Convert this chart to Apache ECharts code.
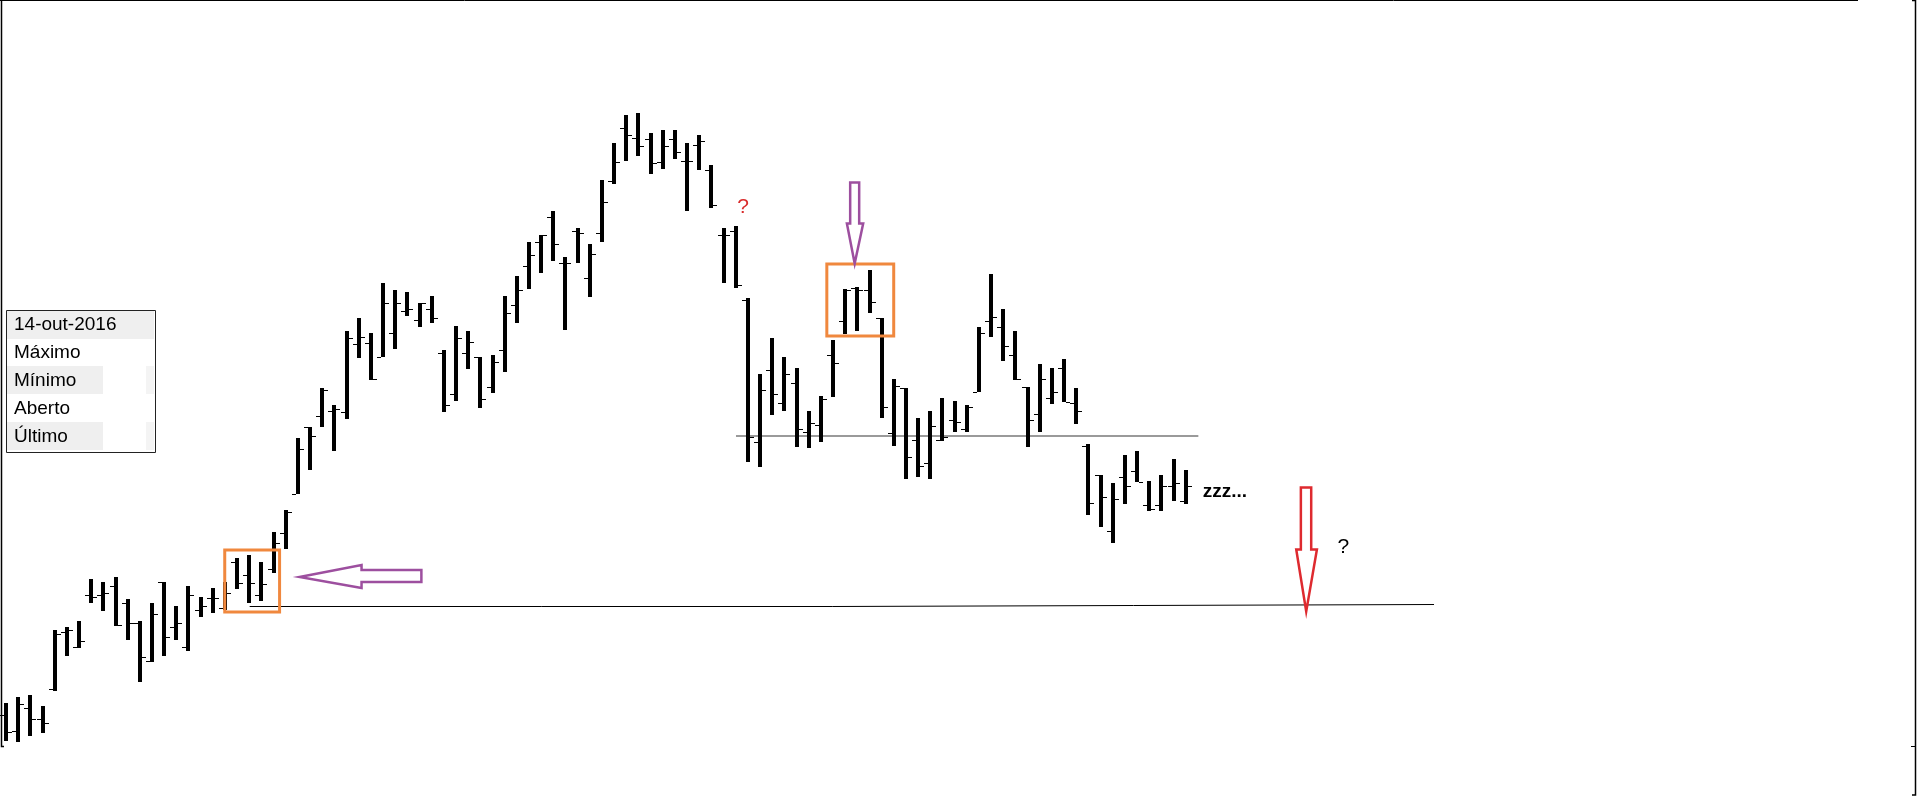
<!DOCTYPE html>
<html>
<head>
<meta charset="utf-8">
<title>Gráfico de barras OHLC</title>
<script src="https://cdn.jsdelivr.net/npm/echarts@6/dist/echarts.min.js"></script>
<style>
  html, body { margin: 0; padding: 0; background: #fff; }
  #chart { width: 1918px; height: 796px; }
</style>
</head>
<body>
<div id="chart"></div>
<script>
// Daily OHLC prices (R$), one entry per session, oldest first
const opens = [
  15.70, 15.38, 15.84, 15.62, 16.22, 17.36, 17.06, 18.10, 18.10, 18.28,
  17.94, 17.54, 16.78, 18.36, 17.46, 17.06, 17.80, 18.04, 17.84, 18.76,
  18.50, 18.10, 18.62, 19.34, 20.12, 21.46, 21.68, 21.78, 21.76, 23.12,
  23.14, 22.86, 23.34, 23.78, 23.60, 23.82, 22.94, 22.12, 22.94, 22.86,
  22.26, 23.00, 23.90, 24.68, 25.16, 25.66, 24.74, 25.38, 24.44, 25.34,
  26.38, 27.44, 27.24, 27.22, 26.76, 27.22, 26.78, 27.10, 26.60, 25.30,
  25.38, 24.00, 21.16, 22.60, 21.94, 22.34, 21.36, 21.50, 22.90, 23.58,
  24.24, 24.20, 23.64, 21.34, 22.24, 21.20, 20.74, 21.20, 21.60, 21.42,
  22.16, 23.58, 23.46, 22.90, 22.26, 21.72, 22.04, 22.64, 21.94, 21.08,
  20.50, 19.38, 20.46, 20.58, 19.90, 19.90, 20.28, 19.98
];
const highs = [
  15.94, 16.06, 16.10, 15.88, 17.40, 17.46, 17.58, 18.42, 18.36, 18.46,
  18.02, 17.58, 17.94, 18.36, 17.88, 18.28, 18.06, 18.24, 18.36, 18.84,
  18.90, 18.76, 19.36, 19.80, 21.24, 21.46, 22.24, 21.90, 23.38, 23.64,
  23.34, 24.34, 24.20, 24.16, 23.94, 24.08, 23.00, 23.48, 23.38, 22.86,
  22.90, 24.08, 24.48, 25.16, 25.30, 25.78, 24.86, 25.44, 25.12, 26.40,
  27.14, 27.70, 27.74, 27.34, 27.40, 27.40, 27.14, 27.30, 26.70, 25.44,
  25.48, 24.04, 22.52, 23.24, 22.86, 22.64, 21.78, 22.08, 23.20, 24.22,
  24.26, 24.60, 23.64, 22.42, 22.24, 21.64, 21.78, 22.04, 21.98, 21.90,
  23.46, 24.52, 23.82, 23.38, 22.26, 22.72, 22.64, 22.82, 22.24, 21.12,
  20.50, 20.34, 20.90, 20.98, 20.38, 20.50, 20.82, 20.60
];
const lows = [
  15.18, 15.16, 15.28, 15.34, 16.18, 16.88, 17.04, 17.94, 17.78, 17.48,
  17.20, 16.36, 16.76, 16.88, 17.20, 16.98, 17.66, 17.74, 17.80, 18.22,
  17.94, 17.98, 18.54, 19.02, 20.12, 20.60, 21.46, 20.98, 21.62, 22.84,
  22.40, 22.86, 23.02, 23.68, 23.46, 23.54, 21.76, 21.98, 22.62, 21.84,
  22.14, 22.56, 23.54, 24.22, 24.54, 24.78, 23.40, 24.74, 24.06, 25.16,
  26.32, 26.78, 26.88, 26.52, 26.62, 26.82, 25.78, 26.60, 25.84, 24.34,
  24.24, 20.76, 20.66, 21.70, 21.78, 21.06, 21.04, 21.16, 22.06, 23.32,
  23.38, 23.74, 21.64, 21.08, 20.42, 20.46, 20.42, 21.18, 21.36, 21.36,
  22.16, 23.26, 22.78, 22.40, 21.06, 21.36, 21.92, 21.96, 21.52, 19.70,
  19.46, 19.14, 19.92, 20.36, 19.78, 19.78, 19.98, 19.92
];
const closes = [
  15.36, 15.92, 15.62, 15.54, 17.32, 17.40, 17.18, 18.06, 18.14, 17.50,
  17.54, 16.86, 17.72, 17.26, 17.54, 18.10, 17.88, 18.04, 18.14, 18.34,
  18.34, 18.32, 19.14, 19.76, 21.02, 21.28, 22.20, 21.82, 23.24, 23.26,
  22.42, 23.94, 23.94, 23.82, 23.94, 23.64, 21.90, 23.24, 23.16, 22.02,
  22.76, 23.74, 24.20, 24.90, 25.30, 25.12, 24.74, 25.34, 24.92, 25.96,
  26.76, 27.30, 27.08, 26.74, 27.08, 26.96, 26.78, 27.18, 25.90, 25.30,
  24.30, 21.26, 22.20, 22.12, 22.52, 21.42, 21.54, 22.02, 22.74, 24.20,
  24.20, 23.96, 21.86, 22.28, 20.86, 20.68, 21.48, 21.26, 21.56, 21.86,
  23.34, 23.66, 23.08, 22.42, 21.60, 22.42, 22.16, 21.96, 21.78, 19.94,
  20.06, 20.02, 20.28, 20.36, 19.82, 20.28, 20.34, 20.28
];

// Session numbers on the time axis, plus empty room on the right for projections
const sessions = opens.map((_, i) => String(i + 1));
const emptySessions = 20;

// Price levels drawn across the chart: [session position, price]
const supportLevel = [[20.03, 17.87], [67.98, 17.87], [67.98, 17.91], [117.42, 17.91]];
const necklineLevel = [[60.02, 21.28], [98.04, 21.28]];

// Highlighted clusters: [left, top price, right, bottom price]
const highlightBoxes = [
  [17.98, 19.00, 22.49, 17.76],
  [67.49, 24.72, 72.99, 23.28]
];

// Hollow arrows as outlines in [session position, price]
const arrowLeft = [[24.13, 18.46], [29.23, 18.70], [29.23, 18.60], [34.15, 18.60],
                   [34.15, 18.36], [29.23, 18.36], [29.23, 18.24]];
const arrowDownTop = [[69.41, 26.35], [70.15, 26.35], [70.15, 25.53], [70.48, 25.53],
                      [69.78, 24.73], [69.14, 25.53], [69.41, 25.53]];
const arrowDownTarget = [[106.47, 20.25], [107.32, 20.25], [107.32, 19.01], [107.79, 19.01],
                         [106.91, 17.77], [106.09, 19.01], [106.47, 19.01]];

// Text notes: [session position, price, text]
const noteQuestionRed = [60.6, 25.86, '?'];
const noteSleep = [98.40, 20.16, 'zzz...'];
const noteQuestion = [109.96, 19.06, '?'];

// Data-window panel rows
const panelRows = ['14-out-2016', 'Máximo', 'Mínimo', 'Aberto', 'Último'];

const ohlcData = opens.map((o, i) => [i, o, highs[i], lows[i], closes[i]]);
const categoryList = sessions.concat(Array.from({ length: emptySessions }, () => ''));

const chart = echarts.init(document.getElementById('chart'), null, { renderer: 'canvas' });

// One OHLC bar: thick high-low stem, open tick on the left, close tick on the right
function renderOhlc(params, api) {
  const i = api.value(0);
  const x = Math.round(api.coord([i, 0])[0]);
  const yO = Math.round(api.coord([i, api.value(1)])[1]);
  const yH = Math.round(api.coord([i, api.value(2)])[1]);
  const yL = Math.round(api.coord([i, api.value(3)])[1]);
  const yC = Math.round(api.coord([i, api.value(4)])[1]);
  const half = 2, tick = 4;
  return {
    type: 'group',
    children: [
      { type: 'rect', shape: { x: x - half, y: yH, width: half * 2, height: Math.max(1, yL - yH) }, style: { fill: '#000' } },
      { type: 'rect', shape: { x: x - half - tick, y: yO, width: tick, height: 1 }, style: { fill: '#000' } },
      { type: 'rect', shape: { x: x + half, y: yC, width: tick, height: 1 }, style: { fill: '#000' } }
    ]
  };
}

const nTotal = categoryList.length;

chart.setOption({
  animation: false,
  backgroundColor: '#ffffff',
  grid: { left: -2, top: 0, width: 1437, height: 796, containLabel: false },
  xAxis: [
    { type: 'category', data: categoryList, boundaryGap: true, show: false },
    { type: 'value', min: -0.5, max: nTotal - 0.5, show: false }
  ],
  yAxis: [{ type: 'value', min: 14.08, max: 30, show: false }],
  series: [
    {
      type: 'line', xAxisIndex: 1, data: supportLevel, symbol: 'none', silent: true,
      lineStyle: { color: '#000', width: 1 }, z: 1
    },
    {
      type: 'line', xAxisIndex: 1, data: necklineLevel, symbol: 'none', silent: true,
      lineStyle: { color: '#9a9a9a', width: 2 }, z: 1
    },
    {
      type: 'custom', xAxisIndex: 0, data: ohlcData, renderItem: renderOhlc,
      encode: { x: 0, y: [1, 2, 3, 4] }, z: 3
    }
  ]
});

// Overlay drawings anchored to chart coordinates
function px(pt) {
  return chart.convertToPixel({ xAxisIndex: 1, yAxisIndex: 0 }, [pt[0], pt[1]]);
}

function arrowShape(points, color) {
  return {
    type: 'polygon', z: 20,
    shape: { points: points.map(px) },
    style: { fill: '#fff', stroke: color, lineWidth: 2.5, lineJoin: 'miter' }
  };
}

function boxShape(b) {
  const a = px([b[0], b[1]]);
  const c = px([b[2], b[3]]);
  return {
    type: 'rect', z: 20,
    shape: { x: a[0], y: a[1], width: c[0] - a[0], height: c[1] - a[1] },
    style: { fill: 'none', stroke: '#f0883e', lineWidth: 3 }
  };
}

function noteText(n, color, font, align) {
  const p = px([n[0], n[1]]);
  return {
    type: 'text', z: 21, x: p[0], y: p[1],
    style: { text: n[2], fill: color, font: font, align: align, verticalAlign: 'middle' }
  };
}

// Data-window panel at the left
const panelLeft = 6, panelTop = 310, panelWidth = 149, rowH = 28;
const panelChildren = [];
panelRows.forEach((label, r) => {
  const y = panelTop + r * rowH;
  if (r === 0) {
    panelChildren.push({ type: 'rect', shape: { x: panelLeft + 1, y: y + 1, width: panelWidth - 2, height: rowH }, style: { fill: '#efefef' } });
  } else if (r % 2 === 0) {
    panelChildren.push({ type: 'rect', shape: { x: panelLeft + 1, y: y, width: 96, height: rowH }, style: { fill: '#efefef' } });
    panelChildren.push({ type: 'rect', shape: { x: panelLeft + 140, y: y, width: 8, height: rowH }, style: { fill: '#f4f4f4' } });
  }
  panelChildren.push({
    type: 'text', x: panelLeft + 8, y: y + rowH / 2 + 1,
    style: { text: label, fill: '#000', font: '19px "Liberation Sans", Arial, sans-serif', verticalAlign: 'middle' }
  });
});
panelChildren.push({
  type: 'rect', shape: { x: panelLeft + 0.5, y: panelTop + 0.5, width: panelWidth, height: rowH * 5 + 2 },
  style: { fill: 'none', stroke: '#222', lineWidth: 1 }
});

chart.setOption({
  graphic: [
    // outer frame
    { type: 'line', shape: { x1: 0, y1: 0.5, x2: 1858, y2: 0.5 }, style: { stroke: '#000', lineWidth: 1 } },
    { type: 'polyline', shape: { points: [[1.5, 0], [1.5, 746.5], [4, 746.5]] }, style: { stroke: '#000', lineWidth: 1.5, fill: 'none' } },
    { type: 'polyline', shape: { points: [[1912, 0.5], [1915.5, 0.5], [1915.5, 795], [1912, 795]] }, style: { stroke: '#000', lineWidth: 1.5, fill: 'none' } },
    { type: 'line', shape: { x1: 1911, y1: 746.5, x2: 1915, y2: 746.5 }, style: { stroke: '#000', lineWidth: 1 } },
    { type: 'group', z: 30, children: panelChildren },
    boxShape(highlightBoxes[0]),
    boxShape(highlightBoxes[1]),
    arrowShape(arrowLeft, '#9d4f9f'),
    arrowShape(arrowDownTop, '#9d4f9f'),
    arrowShape(arrowDownTarget, '#de2a2f'),
    noteText(noteQuestionRed, '#d92b2b', '21px "Liberation Sans", sans-serif', 'center'),
    noteText(noteSleep, '#000', 'bold 19px "Liberation Sans", sans-serif', 'left'),
    noteText(noteQuestion, '#000', '21px "Liberation Sans", sans-serif', 'center')
  ]
});
</script>
</body>
</html>
